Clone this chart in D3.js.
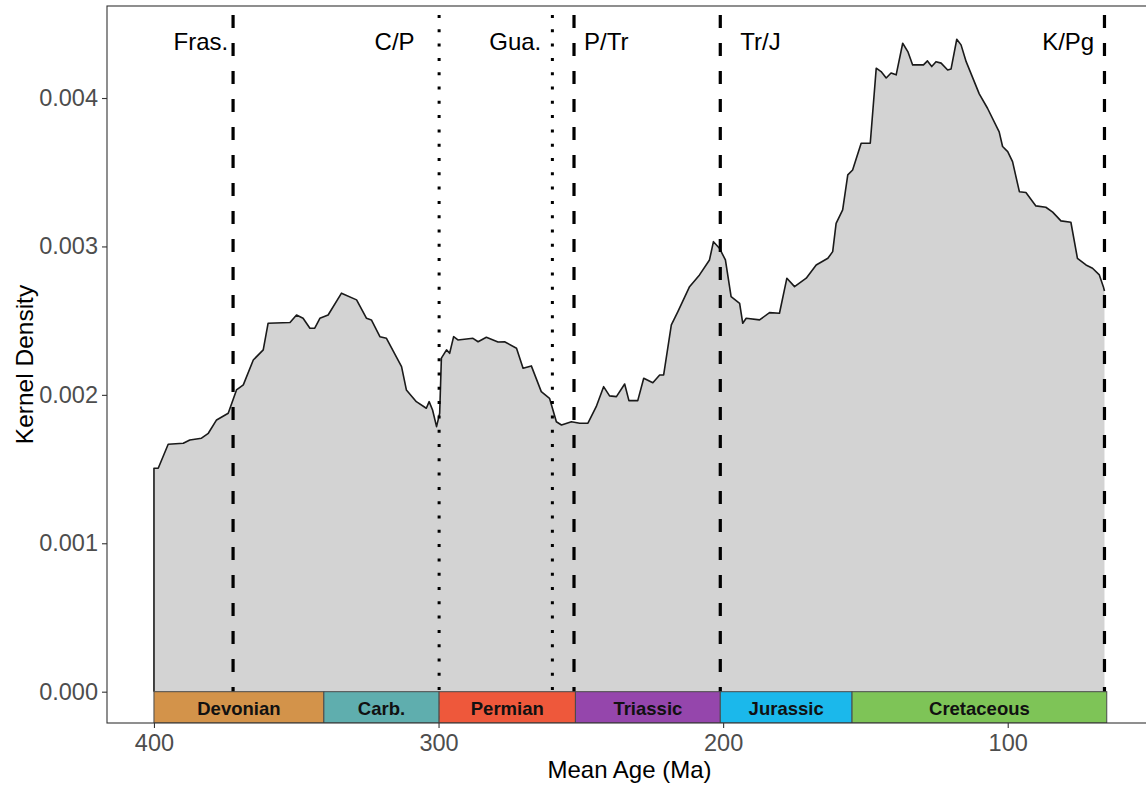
<html>
    <head>
        <title>Kernel density of mean ages</title>
        <script src="https://d3js.org/d3.v7.min.js"></script>
    </head>
    <body style="margin:0;background:#fff">
        <svg id="chart" width="1146" height="787"></svg>
        <script>
            // density curve (Ma, kernel density)
            const ages = [400.0, 398.5, 395.0, 389.7, 387.4, 383.3, 380.9, 378.0, 373.9, 371.0,
                          368.6, 365.1, 361.6, 359.9, 352.2, 349.9, 347.6, 345.2, 343.5, 341.7,
                          338.8, 334.1, 328.8, 325.3, 323.6, 320.6, 318.3, 313.0, 311.3, 307.8,
                          304.3, 303.3, 302.1, 300.7, 299.6, 299.0, 297.2, 296.1, 294.7, 293.2,
                          287.9, 286.1, 283.2, 279.1, 276.8, 272.6, 270.3, 267.4, 263.9, 261.0,
                          258.6, 256.8, 253.3, 250.4, 247.5, 244.6, 242.0, 239.9, 237.5, 234.6,
                          233.1, 230.0, 227.9, 224.7, 222.3, 220.9, 218.2, 215.9, 211.8, 208.3,
                          204.8, 203.4, 201.3, 199.2, 197.2, 194.2, 193.1, 191.9, 187.2, 183.7,
                          180.2, 177.6, 174.9, 170.8, 167.3, 163.2, 161.5, 160.3, 158.0, 156.2,
                          154.5, 151.5, 148.3, 146.2, 144.5, 142.7, 141.0, 139.2, 136.9, 135.1,
                          133.4, 129.6, 128.2, 126.7, 125.2, 123.4, 121.1, 119.9, 117.9, 116.4,
                          114.6, 110.0, 107.1, 103.0, 101.8, 100.0, 98.3, 95.9, 93.6, 90.1,
                          86.6, 84.2, 81.3, 77.8, 75.5, 72.5, 70.2, 67.8, 66.4, 66.0];
            const density = [0.001505, 0.001505, 0.001667, 0.001674, 0.001696, 0.001708, 0.001741, 0.001831, 0.001876, 0.002033,
                             0.002067, 0.002235, 0.002303, 0.002482, 0.002487, 0.002538, 0.002516, 0.002449, 0.002449, 0.002516,
                             0.002538, 0.002685, 0.002640, 0.002516, 0.002505, 0.002392, 0.002381, 0.002190, 0.002033, 0.001954,
                             0.001910, 0.001954, 0.001898, 0.001786, 0.001876, 0.002247, 0.002303, 0.002280, 0.002392, 0.002370,
                             0.002381, 0.002358, 0.002388, 0.002356, 0.002358, 0.002314, 0.002179, 0.002195, 0.002022, 0.001977,
                             0.001819, 0.001797, 0.001819, 0.001809, 0.001809, 0.001920, 0.002055, 0.001993, 0.001988, 0.002073,
                             0.001961, 0.001961, 0.002112, 0.002082, 0.002134, 0.002134, 0.002471, 0.002561, 0.002729, 0.002808,
                             0.002909, 0.003032, 0.002988, 0.002909, 0.002662, 0.002617, 0.002482, 0.002516, 0.002505, 0.002554,
                             0.002550, 0.002786, 0.002729, 0.002786, 0.002875, 0.002920, 0.002965, 0.003156, 0.003246, 0.003482,
                             0.003515, 0.003695, 0.003695, 0.004201, 0.004178, 0.004135, 0.004169, 0.004156, 0.004369, 0.004313,
                             0.004223, 0.004223, 0.004250, 0.004212, 0.004245, 0.004235, 0.004189, 0.004196, 0.004396, 0.004358,
                             0.004245, 0.004028, 0.003931, 0.003772, 0.003673, 0.003639, 0.003571, 0.003369, 0.003363, 0.003273,
                             0.003264, 0.003231, 0.003172, 0.003163, 0.002920, 0.002875, 0.002853, 0.002808, 0.002729, 0.002700];

            // extinction / boundary lines
            const boundaryNames = ["Fras.", "C/P", "Gua.", "P/Tr", "Tr/J", "K/Pg"];
            const boundaryAges = [372.2, 299.8, 260.0, 252.4, 201.0, 66.0];
            const boundaryStyles = ["dashed", "dotted", "dotted", "dashed", "dashed", "dashed"];
            const labelAges = [373.9, 308.4, 263.9, 248.9, 194.0, 69.6];
            const labelAnchors = ["end", "end", "end", "start", "start", "end"];

            // geological periods for the time bar
            const periodNames = ["Devonian", "Carb.", "Permian", "Triassic", "Jurassic", "Cretaceous"];
            const periodStart = [400.0, 340.3, 299.8, 251.9, 201.0, 154.7];
            const periodEnd = [340.3, 299.8, 251.9, 201.0, 154.7, 65.2];
            const periodColors = ["#D3934A", "#5FAEAE", "#EE583B", "#9546AC", "#1BB8EB", "#7EC457"];

            const xTicks = [400, 300, 200, 100];
            const yTicks = [0, 0.001, 0.002, 0.003, 0.004];

            const svg = d3.select("#chart");
            const font = "'Liberation Sans', Arial, sans-serif";
            const pLeft = 107, pRight = 1152, pTop = 6, pBottom = 723;

            const x = d3.scaleLinear().domain([416.5, 49.3]).range([pLeft, pRight]);
            const y = d3.scaleLinear().domain([-0.000211, 0.00462]).range([pBottom, pTop]);

            svg.append("clipPath").attr("id", "panel")
               .append("rect")
               .attr("x", pLeft).attr("y", pTop)
               .attr("width", pRight - pLeft).attr("height", pBottom - pTop);

            const pts = ages.map((a, i) => ({age: a, d: density[i]}));
            const plot = svg.append("g").attr("clip-path", "url(#panel)");

            // filled density
            plot.append("path")
                .datum(pts)
                .attr("fill", "#D3D3D3")
                .attr("d", d3.area().x(d => x(d.age)).y0(y(0)).y1(d => y(d.d)));

            // outline (with the left edge)
            const outline = [{age: ages[0], d: 0}].concat(pts);
            plot.append("path")
                .datum(outline)
                .attr("fill", "none")
                .attr("stroke", "#1a1a1a")
                .attr("stroke-width", 1.6)
                .attr("stroke-linejoin", "round")
                .attr("d", d3.line().x(d => x(d.age)).y(d => y(d.d)));

            // boundary lines (dash pattern starts at the top)
            plot.selectAll("line.bound").data(boundaryAges)
                .join("line")
                .attr("class", "bound")
                .attr("x1", d => x(d)).attr("x2", d => x(d))
                .attr("y1", pTop + 9).attr("y2", pBottom)
                .attr("stroke", "#000")
                .attr("stroke-width", (d, i) => boundaryStyles[i] == "dashed" ? 3.2 : 3)
                .attr("stroke-dasharray", (d, i) => boundaryStyles[i] == "dashed" ? "13,15" : "3,11.3");

            // boundary labels
            svg.selectAll("text.blab").data(boundaryNames)
                .join("text")
                .attr("class", "blab")
                .attr("x", (d, i) => x(labelAges[i]))
                .attr("y", 50)
                .attr("text-anchor", (d, i) => labelAnchors[i])
                .style("font-family", font)
                .style("font-size", "24px")
                .style("fill", "#000")
                .text(d => d);

            // period bar
            plot.selectAll("rect.period").data(periodNames)
                .join("rect")
                .attr("class", "period")
                .attr("x", (d, i) => x(periodStart[i]))
                .attr("width", (d, i) => x(periodEnd[i]) - x(periodStart[i]))
                .attr("y", y(0))
                .attr("height", pBottom - y(0))
                .attr("fill", (d, i) => periodColors[i])
                .attr("stroke", "#4a4a4a")
                .attr("stroke-width", 1);

            plot.selectAll("text.period").data(periodNames)
                .join("text")
                .attr("class", "period")
                .attr("x", (d, i) => x((periodStart[i] + periodEnd[i]) / 2))
                .attr("y", y(0) + 23)
                .attr("text-anchor", "middle")
                .style("font-family", font)
                .style("font-size", "18.5px")
                .style("font-weight", "bold")
                .style("fill", "#111")
                .text(d => d);

            // panel border
            svg.append("rect")
               .attr("x", pLeft).attr("y", pTop)
               .attr("width", pRight - pLeft).attr("height", pBottom - pTop)
               .attr("fill", "none")
               .attr("stroke", "#333")
               .attr("stroke-width", 1.1);

            // axes
            const xAxis = svg.append("g")
                             .attr("transform", `translate(0,${pBottom})`)
                             .call(d3.axisBottom(x).tickValues(xTicks).tickSize(5).tickPadding(6).tickFormat(d3.format("d")));
            const yAxis = svg.append("g")
                             .attr("transform", `translate(${pLeft},0)`)
                             .call(d3.axisLeft(y).tickValues(yTicks).tickSize(5).tickPadding(4).tickFormat(d3.format(".3f")));
            [xAxis, yAxis].forEach(a => {
                a.select(".domain").remove();
                a.selectAll(".tick line").attr("stroke", "#333").attr("stroke-width", 1.1);
                a.selectAll(".tick text")
                 .style("font-family", font)
                 .style("font-size", "23.5px")
                 .attr("fill", "#4D4D4D");
            });

            // axis titles
            svg.append("text")
               .attr("x", (pLeft + pRight) / 2)
               .attr("y", 778)
               .attr("text-anchor", "middle")
               .style("font-family", font)
               .style("font-size", "24px")
               .text("Mean Age (Ma)");
            svg.append("text")
               .attr("transform", `translate(33,${(pTop + pBottom) / 2}) rotate(-90)`)
               .attr("text-anchor", "middle")
               .style("font-family", font)
               .style("font-size", "24.5px")
               .text("Kernel Density");
        </script>
    </body>
</html>
